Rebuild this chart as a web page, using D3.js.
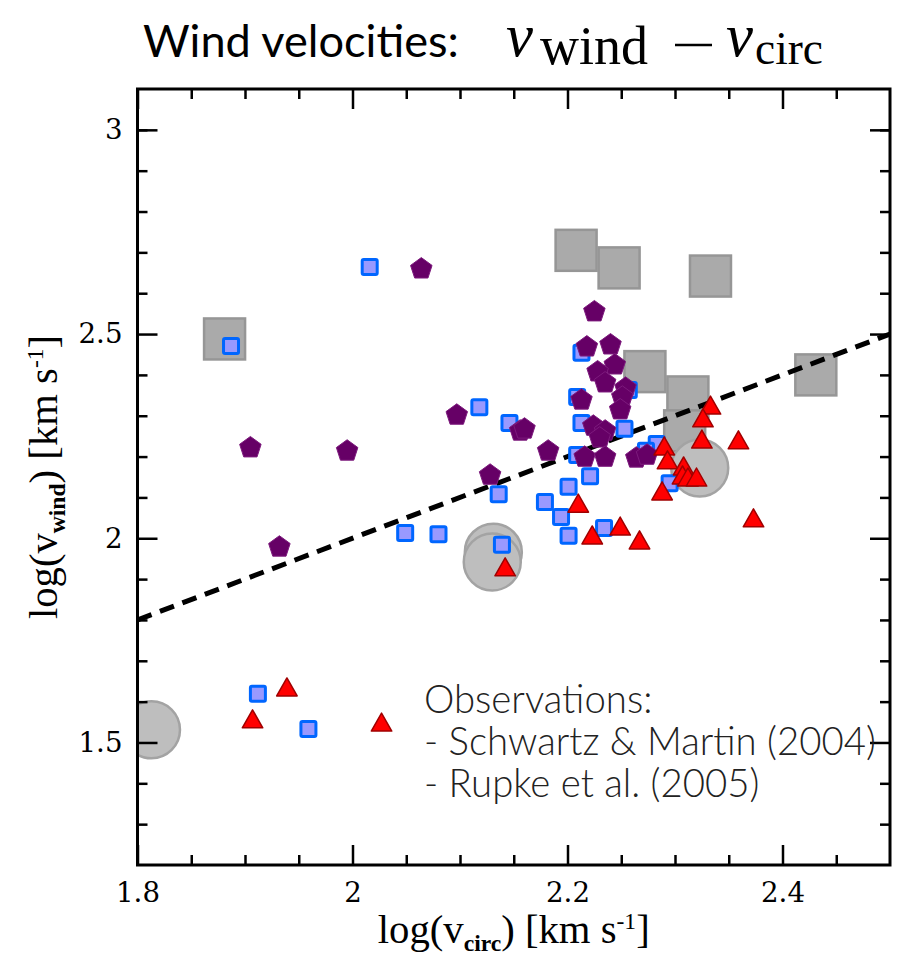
<!DOCTYPE html>
<html><head><meta charset="utf-8">
<script src="https://cdn.jsdelivr.net/npm/d3@7"></script>
<style>body{margin:0;background:#fff}</style>
</head><body><svg id="c" width="899" height="956"></svg>
<script>
// ---- data (log v_circ, log v_wind) ----
const xMajorTicks = [1.8, 2.0, 2.2, 2.4];
const xMajorLabels = ["1.8", "2", "2.2", "2.4"];
const xMinorTicks = [1.85, 1.9, 1.95, 2.05, 2.1, 2.15, 2.25, 2.3, 2.35, 2.45];
const yMajorTicks = [1.5, 2.0, 2.5, 3.0];
const yMajorLabels = ["1.5", "2", "2.5", "3"];
const yMinorTicks = [1.3, 1.4, 1.6, 1.7, 1.8, 1.9, 2.1, 2.2, 2.3, 2.4, 2.6, 2.7, 2.8, 2.9, 3.0];
const refLine = [[1.8, 1.8], [2.5, 2.5]];

const grayBoxes = [[1.881,2.488],[2.208,2.705],[2.248,2.662],[2.333,2.642],[2.272,2.408],[2.312,2.346],[2.309,2.263],[2.431,2.400]];
const grayCircles = [[1.813,1.531],[2.131,1.966],[2.130,1.942],[2.323,2.172]];
const blueSquares = [[2.016,2.664],[1.887,2.471],[2.118,2.321],[2.146,2.282],[2.136,2.108],[2.049,2.013],[2.080,2.010],[2.139,1.984],
  [2.179,2.089],[2.194,2.052],[2.201,2.006],[2.201,2.126],[2.221,2.152],[2.209,2.204],[2.234,2.025],[2.253,2.268],[2.213,2.282],
  [2.209,2.346],[2.213,2.454],[2.257,2.363],[2.283,2.231],[2.273,2.214],[2.295,2.135],[1.912,1.619],[1.959,1.533]];
const purplePentagons = [[2.064,2.662],[1.905,2.224],[1.995,2.216],[1.932,1.981],[2.097,2.304],[2.128,2.157],[2.156,2.265],[2.160,2.270],
  [2.182,2.216],[2.225,2.557],[2.218,2.471],[2.240,2.476],[2.244,2.427],[2.228,2.410],[2.235,2.383],[2.254,2.370],[2.251,2.348],
  [2.249,2.317],[2.213,2.341],[2.224,2.277],[2.235,2.265],[2.230,2.248],[2.216,2.201],[2.235,2.201],[2.264,2.199],[2.274,2.206]];
const redTriangles = [[2.333,2.326],[2.326,2.295],[2.325,2.243],[2.359,2.241],[2.290,2.226],[2.293,2.192],[2.308,2.177],[2.307,2.155],
  [2.312,2.150],[2.320,2.150],[2.288,2.116],[2.210,2.086],[2.373,2.050],[2.249,2.030],[2.223,2.008],[2.267,1.996],[2.142,1.930],
  [1.939,1.636],[1.907,1.558],[2.027,1.550]];
const legendLines = ["Observations:", "- Schwartz & Martin (2004)", "- Rupke et al. (2005)"];

// ---- layout ----
const svg = d3.select("#c");
const L = 137.5, R = 890, T = 89, B = 865;
const x = d3.scaleLinear().domain([1.8, 2.5]).range([L, R]);
const y = d3.scaleLinear().domain([1.2, 3.1]).range([B, T]);
const fit = (sel, w) => { const fs = parseFloat(sel.attr("font-size")); const l = sel.node().getComputedTextLength(); sel.attr("font-size", fs * w / l); return fs * w / l; };

// title
const t1 = svg.append("text").attr("x", 143).attr("y", 57).attr("font-family", "Lato, 'Open Sans', sans-serif")
  .attr("font-size", 50).attr("fill", "#000").text("Wind velocities:");
fit(t1, 316);
const serif = "'Liberation Serif', 'DejaVu Serif', serif";
const m1 = svg.append("text").attr("x", 506).attr("y", 56).attr("font-family", serif).attr("font-style", "italic").attr("font-size", 56).text("v");
fit(m1, 27);
const m2 = svg.append("text").attr("x", 540).attr("y", 64).attr("font-family", serif).attr("font-size", 40).text("wind");
fit(m2, 108);
svg.append("line").attr("x1", 675).attr("x2", 712).attr("y1", 45).attr("y2", 45).attr("stroke", "#000").attr("stroke-width", 2.5);
const m3 = svg.append("text").attr("x", 726).attr("y", 56).attr("font-family", serif).attr("font-style", "italic").attr("font-size", 56).text("v");
fit(m3, 27);
const m4 = svg.append("text").attr("x", 755).attr("y", 64).attr("font-family", serif).attr("font-size", 40).text("circ");
fit(m4, 68);

// plot clip
svg.append("clipPath").attr("id", "clip").append("rect").attr("x", L).attr("y", T).attr("width", R - L).attr("height", B - T);
const g = svg.append("g").attr("clip-path", "url(#clip)");

// gray boxes
const gb = 41;
g.selectAll("rect.gb").data(grayBoxes).join("rect").attr("class", "gb")
  .attr("x", d => x(d[0]) - gb / 2).attr("y", d => y(d[1]) - gb / 2).attr("width", gb).attr("height", gb)
  .attr("fill", "#aaaaaa").attr("stroke", "#969696").attr("stroke-width", 2.5);
g.selectAll("circle.gc").data(grayCircles).join("circle").attr("class", "gc")
  .attr("cx", d => x(d[0])).attr("cy", d => y(d[1])).attr("r", 28.5)
  .attr("fill", "#bebebe").attr("stroke", "#a3a3a3").attr("stroke-width", 2.5);

// blue squares
const bs = 15;
svg.selectAll("rect.bs").data(blueSquares).join("rect").attr("class", "bs")
  .attr("x", d => x(d[0]) - bs / 2).attr("y", d => y(d[1]) - bs / 2).attr("width", bs).attr("height", bs).attr("rx", 1.5)
  .attr("fill", "#9999ff").attr("stroke", "#0066ff").attr("stroke-width", 3);

// pentagons
const pr = 11.3;
const pent = d3.range(5).map(i => { const a = -Math.PI / 2 + i * 2 * Math.PI / 5; return [pr * Math.cos(a), pr * Math.sin(a) + 1]; });
const pentPath = "M" + pent.map(p => p.join(",")).join("L") + "Z";
svg.selectAll("path.pp").data(purplePentagons).join("path").attr("class", "pp")
  .attr("d", pentPath).attr("transform", d => `translate(${x(d[0])},${y(d[1])})`)
  .attr("fill", "#660066").attr("stroke", "#7d1a7d").attr("stroke-width", 1);

// dashed y = x line
g.append("line").attr("x1", x(refLine[0][0])).attr("y1", y(refLine[0][1])).attr("x2", x(refLine[1][0])).attr("y2", y(refLine[1][1]))
  .attr("stroke", "#000").attr("stroke-width", 5).attr("stroke-dasharray", "15,9");

// triangles
const tw = 20.5, th = 18;
const triPath = `M0,${-th / 2}L${tw / 2},${th / 2}L${-tw / 2},${th / 2}Z`;
svg.selectAll("path.rt").data(redTriangles).join("path").attr("class", "rt")
  .attr("d", triPath).attr("transform", d => `translate(${x(d[0])},${y(d[1])})`)
  .attr("fill", "#ff0000").attr("stroke", "#a00000").attr("stroke-width", 1.5).attr("stroke-linejoin", "round");

// axes
function styleAxis(a) {
  a.attr("font-size", 26).attr("font-family", "DejaVu Serif");
  a.select(".domain").remove();
  a.selectAll("line").attr("stroke", "#000").attr("stroke-width", 2.5);
  a.selectAll("text").attr("fill", "#000");
}
const xb = svg.append("g").attr("transform", `translate(0,${B})`).call(d3.axisBottom(x).tickValues(xMajorTicks).tickSize(-20).tickPadding(17).tickFormat((d, i) => xMajorLabels[i])); styleAxis(xb);
const xbm = svg.append("g").attr("transform", `translate(0,${B})`).call(d3.axisBottom(x).tickValues(xMinorTicks).tickSize(-10).tickFormat("")); styleAxis(xbm);
const xt = svg.append("g").attr("transform", `translate(0,${T})`).call(d3.axisTop(x).tickValues(xMajorTicks).tickSize(-20).tickFormat("")); styleAxis(xt);
const xtm = svg.append("g").attr("transform", `translate(0,${T})`).call(d3.axisTop(x).tickValues(xMinorTicks).tickSize(-10).tickFormat("")); styleAxis(xtm);
const yl = svg.append("g").attr("transform", `translate(${L},0)`).call(d3.axisLeft(y).tickValues(yMajorTicks).tickSize(-20).tickPadding(15).tickFormat((d, i) => yMajorLabels[i])); styleAxis(yl);
const ylm = svg.append("g").attr("transform", `translate(${L},0)`).call(d3.axisLeft(y).tickValues(yMinorTicks).tickSize(-10).tickFormat("")); styleAxis(ylm);
const yr = svg.append("g").attr("transform", `translate(${R},0)`).call(d3.axisRight(y).tickValues(yMajorTicks).tickSize(-20).tickFormat("")); styleAxis(yr);
const yrm = svg.append("g").attr("transform", `translate(${R},0)`).call(d3.axisRight(y).tickValues(yMinorTicks).tickSize(-10).tickFormat("")); styleAxis(yrm);
// size tick labels so "2.5" spans about 45px as in the reference
const probe = yl.selectAll("text").filter((d, i) => yMajorLabels[i] === "2.5");
const pw = probe.node().getComputedTextLength();
const tfs = 26 * 44 / pw;
[xb, yl].forEach(a => a.attr("font-size", tfs));
svg.append("rect").attr("x", L).attr("y", T).attr("width", R - L).attr("height", B - T).attr("fill", "none").attr("stroke", "#000").attr("stroke-width", 3);

// axis labels
function axisLabel(sel, sub) {
  sel.attr("font-family", serif).attr("font-size", 30).attr("fill", "#000").attr("text-anchor", "middle");
  sel.append("tspan").text("log(v");
  sel.append("tspan").attr("font-size", "58%").attr("font-weight", "bold").attr("dy", "0.35em").text(sub);
  sel.append("tspan").attr("dy", "-0.2em").text(") [km s");
  sel.append("tspan").attr("font-size", "58%").attr("dy", "-0.6em").text("-1");
  sel.append("tspan").attr("dy", "0.35em").text("]");
}
const xLab = svg.append("text").attr("x", (L + R) / 2).attr("y", 943); axisLabel(xLab, "circ");
const lfs = fit(xLab, 272);
const yLab = svg.append("text").attr("transform", `translate(57,${(T + B) / 2}) rotate(-90)`); axisLabel(yLab, "wind");
yLab.attr("font-size", lfs);

// legend text
const legY = [713, 755, 797];
const lt = legendLines.map((s, i) => svg.append("text").attr("x", 424).attr("y", legY[i]).attr("font-family", "Lato, 'Open Sans', sans-serif")
  .attr("font-weight", 300).attr("font-size", 36).attr("fill", "#222").text(s));
const lf = fit(lt[1], 452);
lt.forEach(s => s.attr("font-size", lf));
</script></body></html>
